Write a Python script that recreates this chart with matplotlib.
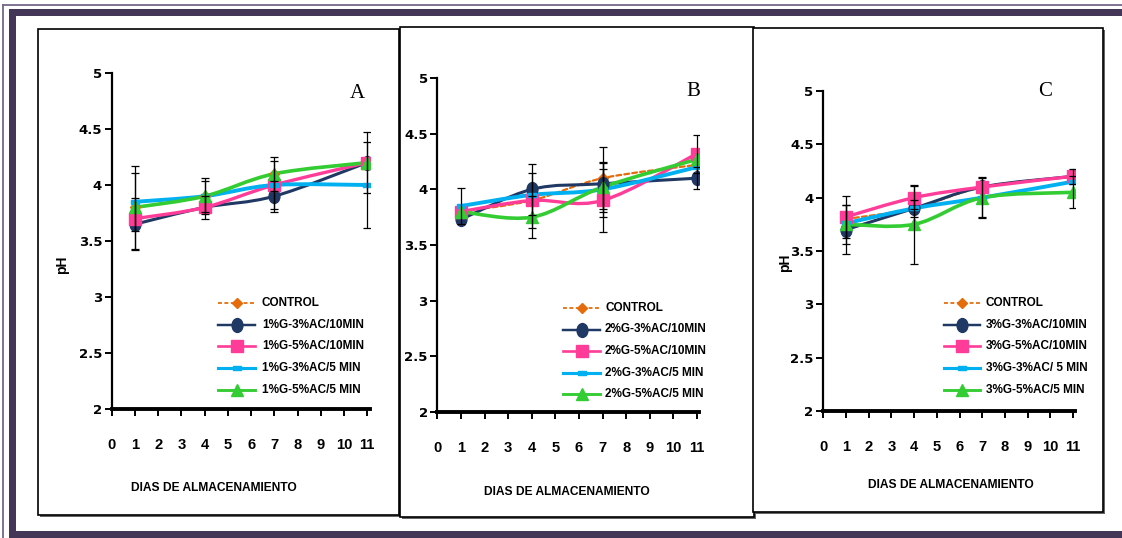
import numpy as np
import matplotlib
matplotlib.use("Agg")
import matplotlib.pyplot as plt
from matplotlib.path import Path
from matplotlib.patches import PathPatch, Rectangle
from matplotlib.lines import Line2D
import matplotlib.font_manager as fm

# ---------------- data ----------------
days = [1, 4, 7, 11]
x_ticks = list(range(0, 12))
y_ticks = [2, 2.5, 3, 3.5, 4, 4.5, 5]
y_tick_labels = ["2", "2.5", "3", "3.5", "4", "4.5", "5"]

panel_letters = ["A", "B", "C"]

labels_A = ["CONTROL", "1%G-3%AC/10MIN", "1%G-5%AC/10MIN", "1%G-3%AC/5 MIN", "1%G-5%AC/5 MIN"]
labels_B = ["CONTROL", "2%G-3%AC/10MIN", "2%G-5%AC/10MIN", "2%G-3%AC/5 MIN", "2%G-5%AC/5 MIN"]
labels_C = ["CONTROL", "3%G-3%AC/10MIN", "3%G-5%AC/10MIN", "3%G-3%AC/ 5 MIN", "3%G-5%AC/5 MIN"]

# pH values (control, G-3%AC/10, G-5%AC/10, G-3%AC/5, G-5%AC/5)
ph_A_control = [3.80, 3.90, 4.10, 4.20]
ph_A_s1 = [3.65, 3.80, 3.90, 4.20]
ph_A_s2 = [3.70, 3.80, 4.00, 4.20]
ph_A_s3 = [3.85, 3.90, 4.00, 4.00]
ph_A_s4 = [3.80, 3.90, 4.10, 4.20]

ph_B_control = [3.80, 3.90, 4.10, 4.22]
ph_B_s1 = [3.73, 4.00, 4.05, 4.10]
ph_B_s2 = [3.80, 3.90, 3.90, 4.32]
ph_B_s3 = [3.85, 3.95, 4.00, 4.20]
ph_B_s4 = [3.80, 3.75, 4.02, 4.27]

ph_C_control = [3.80, 3.90, 4.10, 4.20]
ph_C_s1 = [3.70, 3.90, 4.10, 4.20]
ph_C_s2 = [3.82, 4.00, 4.10, 4.20]
ph_C_s3 = [3.76, 3.90, 4.00, 4.15]
ph_C_s4 = [3.75, 3.75, 4.00, 4.05]

# error bars (0 = no bar shown)
err_A_control = [0, 0, 0, 0]
err_A_s1 = [0.23, 0.10, 0.14, 0]
err_A_s2 = [0, 0, 0.21, 0.27]
err_A_s3 = [0.26, 0.14, 0, 0.38]
err_A_s4 = [0.37, 0.16, 0.15, 0]

err_B_control = [0, 0, 0.28, 0]
err_B_s1 = [0, 0.23, 0, 0.10]
err_B_s2 = [0, 0.25, 0.28, 0.17]
err_B_s3 = [0.16, 0, 0.25, 0]
err_B_s4 = [0, 0.19, 0.22, 0]

err_C_control = [0, 0, 0, 0]
err_C_s1 = [0.23, 0.08, 0, 0.07]
err_C_s2 = [0.20, 0.11, 0, 0]
err_C_s3 = [0, 0, 0.18, 0]
err_C_s4 = [0.18, 0.37, 0.19, 0.15]

# ---------------- style ----------------
W, H = 1122, 538
names = {f.name for f in fm.fontManager.ttflist}
NARROW = "Liberation Sans Narrow" if "Liberation Sans Narrow" in names else "Liberation Sans"
narrow_scale = 1.0 if NARROW == "Liberation Sans Narrow" else 0.85

C_CTRL = "#e46c0a"
C_NAVY = "#1f3864"
C_PINK = "#ff3d99"
C_BLUE = "#00b0f0"
C_GREEN = "#33cc33"

ell = Path.unit_circle()
ell = Path(ell.vertices * np.array([0.78, 1.0]), ell.codes)
dash_marker = Path([(-1, -0.5), (1, -0.5), (1, 0.5), (-1, 0.5), (-1, -0.5)],
                   [Path.MOVETO, Path.LINETO, Path.LINETO, Path.LINETO, Path.CLOSEPOLY])

styles = [
    dict(color=C_CTRL, ls=(0, (2.2, 1.4)), lw=1.6, marker="D", ms=5.5),
    dict(color=C_NAVY, ls="-", lw=2.2, marker=ell, ms=10),
    dict(color=C_PINK, ls="-", lw=2.4, marker="s", ms=9),
    dict(color=C_BLUE, ls="-", lw=2.8, marker=dash_marker, ms=6),
    dict(color=C_GREEN, ls="-", lw=2.6, marker="^", ms=9),
]


def fx(px):
    return px / W


def fy(py):
    return 1 - py / H


def smooth_path(x, y):
    pts = np.column_stack([np.asarray(x, float), np.asarray(y, float)])
    n = len(pts)
    verts = [pts[0]]
    codes = [Path.MOVETO]
    for i in range(n - 1):
        p0 = pts[i - 1] if i > 0 else pts[i]
        p1 = pts[i]
        p2 = pts[i + 1]
        p3 = pts[i + 2] if i + 2 < n else pts[i + 1]
        c1 = p1 + (p2 - p0) / 6.0
        c2 = p2 - (p3 - p1) / 6.0
        verts += [c1, c2, p2]
        codes += [Path.CURVE4] * 3
    return Path(verts, codes)


fig = plt.figure(figsize=(W / 100, H / 100), dpi=100)
fig.patch.set_facecolor("white")

# background / frame
bg = fig.add_axes([0, 0, 1, 1])
bg.set_xlim(0, W)
bg.set_ylim(H, 0)
bg.axis("off")
FRAME = "#433657"
THIN = "#75688a"
bg.add_line(Line2D([3, W], [4.5, 4.5], color=THIN, lw=1.3))
bg.add_line(Line2D([3, 3], [4.5, H], color=THIN, lw=1.3))
bg.add_patch(Rectangle((9, 9), W - 9, 7, color=FRAME, lw=0))
bg.add_patch(Rectangle((9, 9), 7, 523, color=FRAME, lw=0))
bg.add_patch(Rectangle((9, 531), W - 9, 7, color=FRAME, lw=0))

boxes = [(38, 29, 399, 515), (400, 27, 754, 517), (753, 28, 1103, 512)]
for (l, t, r, b) in boxes:
    bg.add_patch(Rectangle((l + 2, t + 2), r - l, b - t, facecolor="#666666", edgecolor="none"))
    bg.add_patch(Rectangle((l, t), r - l, b - t, facecolor="white", edgecolor="black", lw=1.2))

# panel geometry in pixels: axes left, right, top, bottom
axes_px = [(111.8, 369.5, 73, 409), (437.4, 699.4, 78, 412), (823.3, 1075.3, 91, 411)]
letter_pos = [(357, 93), (693, 92), (1045, 92)]
xlabel_pos = [(214, 488), (567, 492), (951, 485)]
ph_pos = [(62, 265), None, (785, 263)]
legend_rows = [
    (218, 255, 262, [303, 324.5, 346, 368, 390]),
    (563, 600, 605, [308, 329.5, 351, 372.5, 394]),
    (944, 980, 986, [303, 324.5, 346, 368, 390]),
]

data = [
    ([ph_A_control, ph_A_s1, ph_A_s2, ph_A_s3, ph_A_s4],
     [err_A_control, err_A_s1, err_A_s2, err_A_s3, err_A_s4], labels_A),
    ([ph_B_control, ph_B_s1, ph_B_s2, ph_B_s3, ph_B_s4],
     [err_B_control, err_B_s1, err_B_s2, err_B_s3, err_B_s4], labels_B),
    ([ph_C_control, ph_C_s1, ph_C_s2, ph_C_s3, ph_C_s4],
     [err_C_control, err_C_s1, err_C_s2, err_C_s3, err_C_s4], labels_C),
]

for p in range(3):
    l, r, t, b = axes_px[p]
    ax = fig.add_axes([fx(l), fy(b), (r - l) / W, (b - t) / H])
    ax.set_facecolor("none")
    ax.set_xlim(0, 11.1)
    ax.set_ylim(2, 5)
    for s in ["top", "right"]:
        ax.spines[s].set_visible(False)
    ax.spines["left"].set_linewidth(1.6)
    ax.spines["bottom"].set_linewidth(2.8)
    ax.set_xticks(x_ticks)
    ax.set_yticks(y_ticks)
    ax.set_yticklabels(y_tick_labels)
    ax.tick_params(axis="y", direction="out", length=5, width=1.4, pad=2)
    ax.tick_params(axis="x", direction="out", length=5, width=1.4, pad=16)
    for lab in ax.get_yticklabels():
        lab.set_fontfamily("DejaVu Sans")
        lab.set_fontweight("bold")
        lab.set_fontsize(9.5)
    for lab in ax.get_xticklabels():
        lab.set_fontfamily(NARROW)
        lab.set_fontweight("bold")
        lab.set_fontsize(12.5 * narrow_scale)

    series, errs, labels = data[p]
    xs = np.array(days, float)
    for k, (ys, es) in enumerate(zip(series, errs)):
        st = styles[k]
        ys = np.array(ys, float)
        ax.add_patch(PathPatch(smooth_path(xs, ys), fill=False, edgecolor=st["color"],
                               lw=st["lw"], linestyle=st["ls"], zorder=2 + k * 0.1,
                               capstyle="round", joinstyle="round"))
        ax.plot(xs, ys, linestyle="none", marker=st["marker"], ms=st["ms"],
                color=st["color"], mec=st["color"], zorder=3 + k * 0.1)
    for k, (ys, es) in enumerate(zip(series, errs)):
        ys = np.array(ys, float)
        es = np.array(es, float)
        m = es > 0
        if m.any():
            ax.errorbar(xs[m], ys[m], yerr=es[m], fmt="none", ecolor="black",
                        elinewidth=0.9, capsize=3, capthick=0.9, zorder=5)

    # panel letter
    lx, ly = letter_pos[p]
    fig.text(fx(lx), fy(ly), panel_letters[p], family="Liberation Serif", fontsize=15,
             ha="center", va="center")
    # x label
    xx, xy = xlabel_pos[p]
    fig.text(fx(xx), fy(xy), "DIAS DE ALMACENAMIENTO", family=NARROW, fontweight="bold",
             fontsize=10.5 * 0.82 if NARROW != "Liberation Sans Narrow" else 10.5,
             ha="center", va="center")
    # y label
    if ph_pos[p] is not None:
        px, py = ph_pos[p]
        fig.text(fx(px), fy(py), "pH", family="Liberation Sans", fontweight="bold",
                 fontsize=10, rotation=90, ha="center", va="center")

    # legend (manual)
    hx0, hx1, tx, rows = legend_rows[p]
    for k, yy in enumerate(rows):
        st = styles[k]
        fig.add_artist(Line2D([fx(hx0), fx(hx1)], [fy(yy), fy(yy)], transform=fig.transFigure,
                              color=st["color"], lw=st["lw"] * 0.8, linestyle=st["ls"]))
        fig.add_artist(Line2D([fx((hx0 + hx1) / 2)], [fy(yy)], transform=fig.transFigure,
                              linestyle="none", marker=st["marker"], ms=st["ms"],
                              color=st["color"], mec=st["color"]))
        fig.text(fx(tx), fy(yy), labels[k], family=NARROW, fontweight="bold",
                 fontsize=10 * narrow_scale, ha="left", va="center")

fig.savefig("out.png", dpi=100)
